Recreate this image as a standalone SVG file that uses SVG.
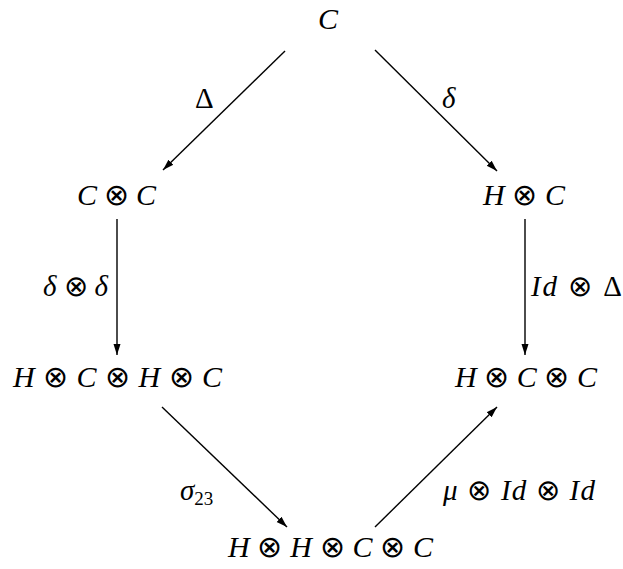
<svg xmlns="http://www.w3.org/2000/svg" width="623" height="569" viewBox="0 0 623 569">
<style>
text{font-style:italic;font-size:30px;fill:#000}
.o{font-style:normal}
.up{font-style:normal}
.lbl{font-size:29px}
.e{stroke:#000;stroke-width:1.4;fill:none;marker-end:url(#ah)}
</style>
<defs>
<marker id="ah" viewBox="0 0 10 10" refX="10" refY="5" markerWidth="11" markerHeight="11" markerUnits="userSpaceOnUse" orient="auto">
<path d="M0,1.8 L10,5 L0,8.2 z" fill="#000"/>
</marker>
</defs>
<g font-family="Liberation Serif">
<g id="edges">
<line class="e" x1="285" y1="51" x2="163" y2="170"/>
<line class="e" x1="375" y1="50" x2="497" y2="171"/>
<line class="e" x1="117" y1="219" x2="117" y2="355"/>
<line class="e" x1="525" y1="219" x2="525" y2="355"/>
<line class="e" x1="162" y1="407" x2="287" y2="527"/>
<line class="e" x1="375" y1="527" x2="497" y2="407"/>
<text class="lbl up" x="195" y="108">Δ</text>
<text class="lbl" x="442" y="108">δ</text>
<text class="lbl" x="43" y="296" textLength="65" lengthAdjust="spacing">δ <tspan class="o">⊗</tspan> δ</text>
<text class="lbl" x="531" y="296" textLength="91" lengthAdjust="spacing">Id <tspan class="o">⊗</tspan> <tspan class="up">Δ</tspan></text>
<text class="lbl" x="180" y="500">σ<tspan font-size="19" font-style="normal" dy="5">23</tspan></text>
<text class="lbl" x="443" y="500" textLength="152" lengthAdjust="spacing">μ <tspan class="o">⊗</tspan> Id <tspan class="o">⊗</tspan> Id</text>
</g>
<g id="n1"><text x="318" y="29">C</text></g>
<g id="n2"><text x="77" y="205" textLength="79" lengthAdjust="spacing">C <tspan class="o">⊗</tspan> C</text></g>
<g id="n3"><text x="483" y="205" textLength="82" lengthAdjust="spacing">H <tspan class="o">⊗</tspan> C</text></g>
<g id="n4"><text x="13" y="387" textLength="209" lengthAdjust="spacing">H <tspan class="o">⊗</tspan> C <tspan class="o">⊗</tspan> H <tspan class="o">⊗</tspan> C</text></g>
<g id="n5"><text x="455" y="387" textLength="142" lengthAdjust="spacing">H <tspan class="o">⊗</tspan> C <tspan class="o">⊗</tspan> C</text></g>
<g id="n6"><text x="228" y="557" textLength="205" lengthAdjust="spacing">H <tspan class="o">⊗</tspan> H <tspan class="o">⊗</tspan> C <tspan class="o">⊗</tspan> C</text></g>
</g>
</svg>
